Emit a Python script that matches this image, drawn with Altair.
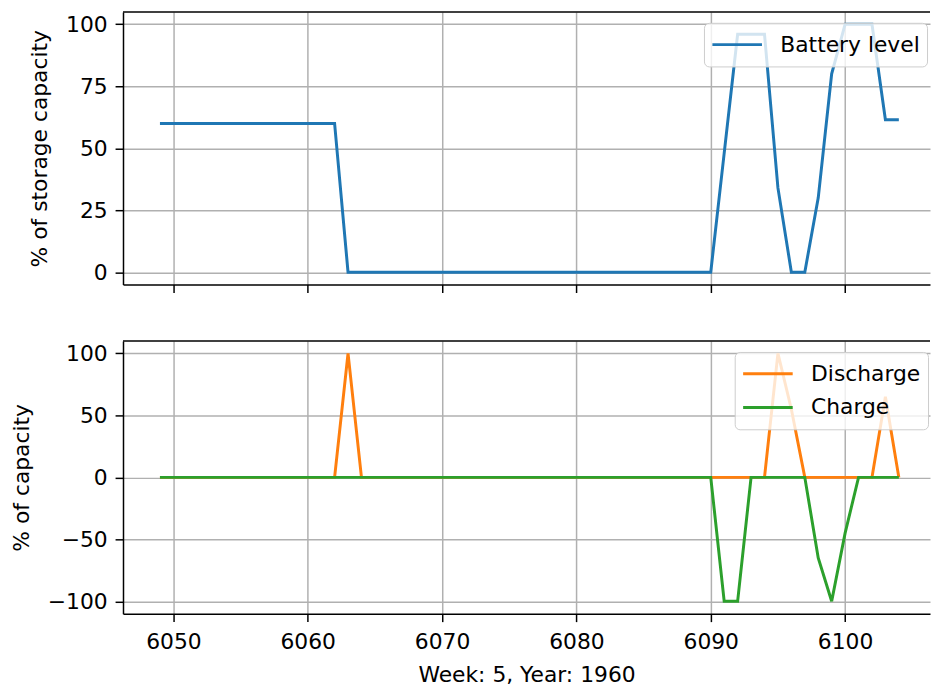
import altair as alt
import pandas as pd

FONT = "DejaVu Sans"

hours = list(range(6049, 6105))

battery = [
    60, 60, 60, 60, 60, 60, 60, 60, 60, 60, 60, 60, 60, 60,       # 6049-6062
    0, 0, 0, 0, 0, 0, 0, 0, 0, 0, 0, 0, 0, 0,                     # 6063-6076
    0, 0, 0, 0, 0, 0, 0, 0, 0, 0, 0, 0, 0, 0,                     # 6077-6090
    48, 96, 96, 96, 34, 0, 0, 30, 80, 100, 100, 100, 61.5, 61.5,  # 6091-6104
]
discharge = [
    0, 0, 0, 0, 0, 0, 0, 0, 0, 0, 0, 0, 0, 0,                     # 6049-6062
    100, 0, 0, 0, 0, 0, 0, 0, 0, 0, 0, 0, 0, 0,                   # 6063-6076
    0, 0, 0, 0, 0, 0, 0, 0, 0, 0, 0, 0, 0, 0,                     # 6077-6090
    0, 0, 0, 0, 100, 55, 0, 0, 0, 0, 0, 0, 65, 0,                 # 6091-6104
]
charge = [
    0, 0, 0, 0, 0, 0, 0, 0, 0, 0, 0, 0, 0, 0,                     # 6049-6062
    0, 0, 0, 0, 0, 0, 0, 0, 0, 0, 0, 0, 0, 0,                     # 6063-6076
    0, 0, 0, 0, 0, 0, 0, 0, 0, 0, 0, 0, 0, 0,                     # 6077-6090
    -100, -100, 0, 0, 0, 0, 0, -65, -100, -45, 0, 0, 0, 0,        # 6091-6104
]

x_ticks = [6050, 6060, 6070, 6080, 6090, 6100]
top_y_ticks = [0, 25, 50, 75, 100]
bot_y_ticks = [-100, -50, 0, 50, 100]

top_names = ["Battery level"]
top_colors = ["#1f77b4"]
bot_names = ["Discharge", "Charge"]
bot_colors = ["#ff7f0e", "#2ca02c"]

W, H = 814, 275
XDOM = [6046.25, 6106.32]

df_top = pd.DataFrame({"hour": hours, "value": battery, "series": top_names[0]})
df_bot = pd.DataFrame({
    "hour": hours + hours,
    "value": discharge + charge,
    "series": [bot_names[0]] * len(hours) + [bot_names[1]] * len(hours),
})

minus_expr = "replace(datum.label, '-', '\u2212')"


def spine():
    return alt.Chart(alt.Data(values=[{"a": 1}])).mark_rule(
        color="black", strokeWidth=1.5
    ).encode(x=alt.value(0), x2=alt.value(W), y=alt.value(0))


def legend(x, y):
    return alt.Legend(
        title=None, orient="none", legendX=x, legendY=y,
        fillColor="rgba(255,255,255,0.8)", strokeColor="#cccccc",
        cornerRadius=5, padding=7, symbolType="stroke", symbolSize=2500,
        symbolStrokeWidth=3, labelFontSize=22, labelFont=FONT, labelColor="black",
        labelOffset=17, clipHeight=30, rowPadding=4,
    )


x_top = alt.X(
    "hour:Q",
    scale=alt.Scale(domain=XDOM, nice=False, zero=False),
    axis=alt.Axis(values=x_ticks, labels=False, title=None),
)
x_bot = alt.X(
    "hour:Q",
    scale=alt.Scale(domain=XDOM, nice=False, zero=False),
    axis=alt.Axis(values=x_ticks, format="d", title="Week: 5, Year: 1960",
                  labelPadding=10, titlePadding=12),
)

top_line = alt.Chart(df_top).mark_line(strokeWidth=3, clip=True).encode(
    x=x_top,
    y=alt.Y("value:Q", scale=alt.Scale(domain=[-5, 105], nice=False, zero=False),
            axis=alt.Axis(values=top_y_ticks, title="% of storage capacity",
                          labelExpr=minus_expr)),
    color=alt.Color("series:N", scale=alt.Scale(domain=top_names, range=top_colors),
                    legend=legend(586, 11)),
)
top = alt.layer(top_line, spine()).properties(width=W, height=H)

y_bot = alt.Y("value:Q", scale=alt.Scale(domain=[-110, 110], nice=False, zero=False),
              axis=alt.Axis(values=bot_y_ticks, title="% of capacity",
                            labelExpr=minus_expr))
c_bot = alt.Color("series:N", scale=alt.Scale(domain=bot_names, range=bot_colors),
                  legend=legend(617, 11))

dis_line = alt.Chart(df_bot).transform_filter(
    alt.datum.series == bot_names[0]
).mark_line(strokeWidth=3, clip=True).encode(x=x_bot, y=y_bot, color=c_bot)
chg_line = alt.Chart(df_bot).transform_filter(
    alt.datum.series == bot_names[1]
).mark_line(strokeWidth=3, clip=True).encode(x=x_bot, y=y_bot, color=c_bot)

bottom = alt.layer(dis_line, chg_line, spine()).properties(width=W, height=H)

chart = alt.vconcat(top, bottom, spacing=47).resolve_scale(
    color="independent"
).resolve_legend(
    color="independent"
).configure(
    font=FONT,
    padding={"left": 2, "top": 0, "right": 0, "bottom": 0},
).configure_view(
    stroke=None
).configure_axis(
    labelFont=FONT, titleFont=FONT, labelFontSize=22, titleFontSize=22,
    titleFontWeight="normal", labelColor="black", titleColor="black",
    domainColor="black", domainWidth=1.5, tickColor="black", tickWidth=1.5,
    tickSize=8, labelPadding=8, titlePadding=14,
    gridColor="#b0b0b0", gridWidth=1.5, grid=True,
)

chart.save("out.html", embed_options={"renderer": "svg", "actions": False})
